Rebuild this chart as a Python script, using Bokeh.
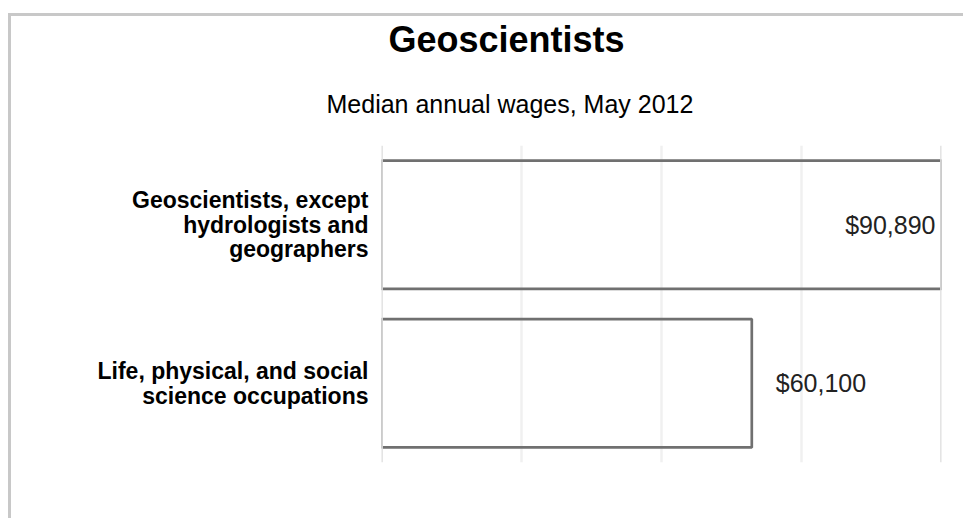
from bokeh.plotting import figure
from bokeh.models import ColumnDataSource, FactorRange, Range1d, FixedTicker, Span, Title
from bokeh.core.properties import value, field
from bokeh.embed import file_html
from bokeh.resources import INLINE

# ---- data ----
categories = [
    "Geoscientists, except\nhydrologists and\ngeographers",
    "Life, physical, and social\nscience occupations",
]
wages = [90890, 60100]
wage_labels = ["$90,890", "$60,100"]
title_text = "Geoscientists"
subtitle_text = "Median annual wages, May 2012"

FONT = "Liberation Sans"
x_max = max(wages)
n_grid = 4
grid_ticks = [x_max * i / n_grid for i in range(n_grid + 1)]

inside = [w >= x_max for w in wages]
source = ColumnDataSource(dict(
    cat=categories,
    wage=wages,
    label=wage_labels,
    align=["right" if i else "left" for i in inside],
    xoff=[-6 if i else 24 for i in inside],
))

p = figure(
    width=955, height=505,
    x_range=Range1d(0, x_max),
    y_range=FactorRange(factors=list(reversed(categories)), range_padding=0),
    output_backend="svg", toolbar_location=None,
    min_border_left=370, min_border_right=25, min_border_top=126, min_border_bottom=59,
    styles={"border-top": "3px solid #c8c8c8", "border-left": "3px solid #c8c8c8",
            "margin-top": "13px", "margin-left": "8px"},
)
p.outline_line_color = None
p.background_fill_color = "white"
p.border_fill_color = "white"

p.xaxis.visible = False
p.ygrid.visible = False
p.xgrid.ticker = FixedTicker(ticks=grid_ticks)
p.xgrid.grid_line_color = "#f0f0f0"
p.xgrid.grid_line_width = 2.5

p.yaxis.axis_line_color = None
p.yaxis.major_tick_line_color = None
p.yaxis.minor_tick_line_color = None
p.yaxis.major_label_standoff = 7
p.yaxis.major_label_text_font = FONT
p.yaxis.major_label_text_font_style = "bold"
p.yaxis.major_label_text_font_size = "23px"
p.yaxis.major_label_text_color = "#000000"
p.yaxis.major_label_text_line_height = 0.95

p.hbar(y="cat", left=0, right="wage", height=0.81, source=source,
       fill_alpha=0, line_color="#707070", line_width=2.7)

for loc in (0, x_max):
    p.add_layout(Span(location=loc, dimension="height", line_color="#e0e0e0", line_width=2.7))

p.text(x="wage", y="cat", text="label", source=source,
       text_align=field("align"), x_offset="xoff", text_baseline="middle",
       text_font=value(FONT), text_font_size=value("25px"), text_color="#222222")

p.add_layout(Title(text=subtitle_text, align="left", offset=-55, standoff=56,
                   text_font=FONT, text_font_style="normal", text_font_size="25px",
                   text_color="#000000"), "above")
p.add_layout(Title(text=title_text, align="left", offset=7, standoff=0,
                   text_font=FONT, text_font_style="bold", text_font_size="36px",
                   text_color="#000000"), "above")

open("out.html", "w").write(file_html(p, INLINE))
